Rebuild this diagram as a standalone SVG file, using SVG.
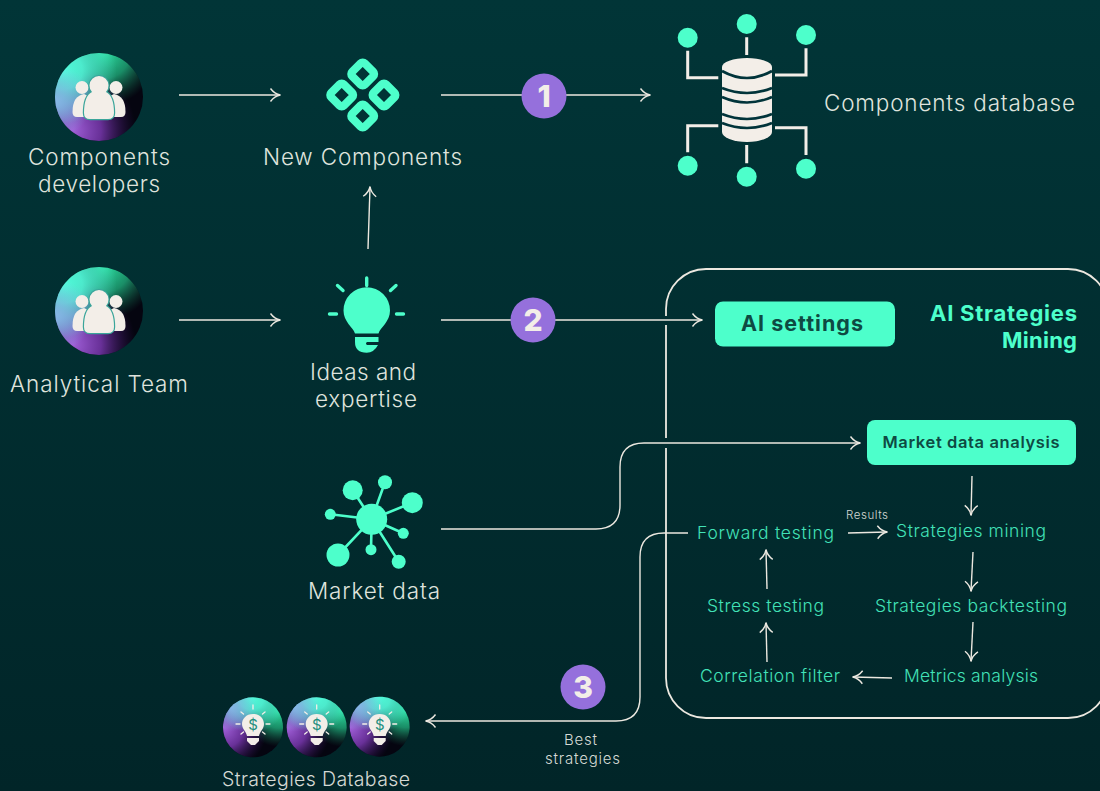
<svg xmlns="http://www.w3.org/2000/svg" xmlns:xlink="http://www.w3.org/1999/xlink" width="1100" height="791" viewBox="0 0 1100 791">
<style>
text{font-family:Inter,"Liberation Sans",sans-serif}
.lbl{fill:#dfe3dd;font-size:22.500px;font-weight:300}
.step{fill:#42e2b8;font-size:17.500px;font-weight:300}
.cap{fill:#d5d9d4;font-weight:300}
.conn{fill:none;stroke:#ece8e0;stroke-width:1.4}
.arr{marker-end:url(#head)}
.cream{fill:#f3eee8}
.mint{fill:#4dffcb}
.wire{fill:none;stroke:#f3eee8;stroke-width:3}
.spoke{stroke:#4dffcb;stroke-width:2.6}
.ray{stroke:#4dffcb;stroke-width:3.4;stroke-linecap:round}
.mray{stroke:#f3eee8;stroke-width:1.3;stroke-linecap:round}
.badge{fill:#9570dc}
.num{fill:#f3eee8;font-size:30px;font-weight:800;text-anchor:middle}
.gap{fill:none;stroke:#01343a;stroke-width:2.6}
</style>
<defs>
<linearGradient id="bg" x1="0" y1="0" x2="0" y2="1"><stop offset="0" stop-color="#013537"/><stop offset="1" stop-color="#012528"/></linearGradient>
<radialGradient id="gCyan" cx="0.1" cy="0.2" r="0.6"><stop offset="0" stop-color="#50ffdc"/><stop offset="0.35" stop-color="#52f5d8" stop-opacity="0.9"/><stop offset="1" stop-color="#58e0d8" stop-opacity="0"/></radialGradient>
<radialGradient id="gGreen" cx="0.55" cy="-0.02" r="0.62"><stop offset="0" stop-color="#2fe8a8"/><stop offset="0.5" stop-color="#1faf7c" stop-opacity="0.8"/><stop offset="1" stop-color="#127050" stop-opacity="0"/></radialGradient>
<radialGradient id="gPurple" cx="0.2" cy="0.88" r="0.72"><stop offset="0" stop-color="#a060d8"/><stop offset="0.45" stop-color="#7a38b0" stop-opacity="0.85"/><stop offset="1" stop-color="#3a1260" stop-opacity="0"/></radialGradient>
<radialGradient id="gBlue" cx="0" cy="0.55" r="0.42"><stop offset="0" stop-color="#88b8e8"/><stop offset="1" stop-color="#88b8e8" stop-opacity="0"/></radialGradient>
<g id="orb">
<circle r="1" fill="#050510"/>
<circle r="1" fill="url(#gGreen)"/>
<circle r="1" fill="url(#gPurple)"/>
<circle r="1" fill="url(#gCyan)"/>
<circle r="1" fill="url(#gBlue)"/>
</g>
<g id="people">
<circle cx="-17" cy="-9.500" r="6.500" class="cream"/>
<path class="cream" d="M-26.500 15 Q-26.500 -1 -15 -3 L-9 0 L-13 20 H-22 Q-26.500 20 -26.500 15Z"/>
<circle cx="17" cy="-9.500" r="6.500" class="cream"/>
<path class="cream" d="M26.500 15 Q26.500 -1 15 -3 L9 0 L13 20 H22 Q26.500 20 26.500 15Z"/>
<path fill="none" stroke="#3aa59a" stroke-width="2.400" d="M-15 16 Q-15 -1 -7 -5 A9.500 9.500 0 1 1 7 -5 Q15 -1 15 16 Q15 22 9 22 H-9 Q-15 22 -15 16Z"/>
<path class="cream" d="M-15 16 Q-15 -1 -7 -5 A9.500 9.500 0 1 1 7 -5 Q15 -1 15 16 Q15 22 9 22 H-9 Q-15 22 -15 16Z"/>
</g>
<g id="mbulb">
<path class="cream" d="M0 -11 C7 -11 11 -6 11 -1 C11 4 7 6 6 11 H-6 C-7 6 -11 4 -11 -1 C-11 -6 -7 -11 0 -11Z"/>
<path class="cream" d="M-6 13 H6 V16 L2 20 H-2 L-6 16Z"/>
<path class="mray" d="M0 -20V-16M-17 -1H-13M13 -1H17M-12 -13L-9.500 -11M12 -13L9.500 -11M-12 9L-9.500 7M12 9L9.500 7"/>
<text y="5" text-anchor="middle" font-size="15" font-weight="400" fill="#1f8f7f">$</text>
</g>
<marker id="head" viewBox="0 0 16 16" refX="14.500" refY="8" markerWidth="16" markerHeight="16" markerUnits="userSpaceOnUse" orient="auto"><path d="M5 1.500 Q9 7 15 8 Q9 9 5 14.500" fill="none" stroke="#ece8e0" stroke-width="1.400"/></marker>
</defs>
<rect width="1100" height="791" fill="url(#bg)"/>

<g id="connectors">
<path class="conn arr" d="M179 95H280"/>
<path class="conn arr" d="M441 95H650"/>
<path class="conn arr" d="M368 249L370 187"/>
<path class="conn arr" d="M179 320H280"/>
<path id="box" d="M666 316V309A40 40 0 0 1 706 269H1068A40 40 0 0 1 1108 309V678A40 40 0 0 1 1068 718H706A40 40 0 0 1 666 678V448M666 438V325" fill="none" stroke="#ece8e0" stroke-width="1.800"/>
<path class="conn arr" d="M441 320H702"/>
<path class="conn arr" d="M441 529H596Q620 529 620 505V467Q620 443 644 443H860"/>
<path class="conn arr" d="M688 533H664Q640 533 640 557V697Q640 721 616 721H426"/>
<path class="conn arr" d="M972 476L971 515"/>
<path class="conn arr" d="M848 533L887 532"/>
<path class="conn arr" d="M973 552L971 591"/>
<path class="conn arr" d="M973 622L971 661"/>
<path class="conn arr" d="M892 678L853 677"/>
<path class="conn arr" d="M767 662L766 623"/>
<path class="conn arr" d="M767 589L766 550"/>
</g>

<g id="components-developers">
<use xlink:href="#orb" href="#orb" transform="translate(99 97) scale(44)"/>
<use xlink:href="#people" href="#people" transform="translate(99 97)"/>
<text class="lbl" x="99" y="165" text-anchor="middle" textLength="142">Components</text>
<text class="lbl" x="99" y="192" text-anchor="middle" textLength="122">developers</text>
</g>
<g id="analytical-team">
<use xlink:href="#orb" href="#orb" transform="translate(99 311) scale(44)"/>
<use xlink:href="#people" href="#people" transform="translate(99 311)"/>
<text class="lbl" x="99" y="392" text-anchor="middle" textLength="178">Analytical Team</text>
</g>
<g id="new-components">
<g fill="none" stroke="#4dffcb" stroke-width="8">
<rect x="-9" y="-9" width="18" height="18" rx="3" transform="translate(362.700 74) rotate(45)"/>
<rect x="-9" y="-9" width="18" height="18" rx="3" transform="translate(341.700 95) rotate(45)"/>
<rect x="-9" y="-9" width="18" height="18" rx="3" transform="translate(384 95) rotate(45)"/>
<rect x="-9" y="-9" width="18" height="18" rx="3" transform="translate(362.700 116) rotate(45)"/>
</g>
<text class="lbl" x="362.500" y="165" text-anchor="middle" textLength="199">New Components</text>
</g>
<g id="components-database">
<path class="cream" d="M722 67A25 9 0 0 1 772 67V132A25 10 0 0 1 722 132Z"/>
<path class="gap" d="M722 71Q747 85 772 71"/>
<path class="gap" d="M722 88Q747 98 772 88"/>
<path class="gap" d="M722 97Q747 108 772 97"/>
<path class="gap" d="M722 114Q747 124 772 114"/>
<path class="gap" d="M722 123Q747 133 772 123"/>
<path class="wire" d="M687.700 50.700V77.700H718.300M746.700 37.300V55M806 48.300V75H775M687.700 152.300V125.700H718.300M746.700 145V163.300M806 155V127.700H775"/>
<g class="mint">
<circle cx="687.700" cy="37.700" r="10"/><circle cx="746.700" cy="24" r="10"/><circle cx="806" cy="35" r="10"/>
<circle cx="687.700" cy="165.700" r="10"/><circle cx="746.700" cy="176.700" r="10"/><circle cx="806" cy="168.700" r="10"/>
</g>
<text class="lbl" x="824" y="111" textLength="251">Components database</text>
</g>
<g id="ideas-and-expertise">
<path class="mint" d="M355 333.500C353 327 343.500 322 343.500 310.500A23.200 23.200 0 0 1 390 310.500C390 322 380.500 327 378.500 333.500Z"/>
<path class="mint" d="M355 337H378.500V342H367Q365 343.500 367 345H378Q374 352.700 366.700 352.700Q355 352.700 355 342Z"/>
<path class="ray" d="M366.700 278V285.500M329.500 314H336.500M396.500 314H403.500M337.500 285.500L343 290.500M396 285.500L390.500 290.500"/>
<text class="lbl" x="363" y="380" text-anchor="middle" textLength="106">Ideas and</text>
<text class="lbl" x="366" y="407" text-anchor="middle" textLength="102">expertise</text>
</g>
<g id="market-data">
<path class="spoke" d="M371.700 519.300L352.700 490.300M371.700 519.300L385 482.300M371.700 519.300L412.300 502.700M371.700 519.300L403.300 533.300M371.700 519.300L398.700 561.700M371.700 519.300L371 549.700M371.700 519.300L338 555M371.700 519.300L330.300 514.300"/>
<g class="mint">
<circle cx="371.700" cy="519.300" r="15.500"/><circle cx="352.700" cy="490.300" r="10"/><circle cx="385" cy="482.300" r="7"/><circle cx="412.300" cy="502.700" r="10.500"/><circle cx="403.300" cy="533.300" r="5.500"/><circle cx="398.700" cy="561.700" r="7"/><circle cx="371" cy="549.700" r="5.500"/><circle cx="338" cy="555" r="11.500"/><circle cx="330.300" cy="514.300" r="5.500"/>
</g>
<text class="lbl" x="374" y="599" text-anchor="middle" textLength="132">Market data</text>
</g>
<g id="strategies-database">
<use xlink:href="#orb" href="#orb" transform="translate(253 727.300) rotate(50) scale(30)"/>
<use xlink:href="#orb" href="#orb" transform="translate(316.700 727.300) rotate(50) scale(30)"/>
<use xlink:href="#orb" href="#orb" transform="translate(379.700 726.700) rotate(50) scale(30)"/>
<use xlink:href="#mbulb" href="#mbulb" transform="translate(253 725)"/>
<use xlink:href="#mbulb" href="#mbulb" transform="translate(316.700 725)"/>
<use xlink:href="#mbulb" href="#mbulb" transform="translate(379.700 725)"/>
<text class="cap" x="316" y="786" text-anchor="middle" font-size="19.500" textLength="188">Strategies Database</text>
</g>
<g id="badge-1"><circle class="badge" cx="544" cy="96" r="22.500"/><text class="num" x="544" y="107">1</text></g>
<g id="badge-2"><circle class="badge" cx="533" cy="320" r="22.500"/><text class="num" x="533" y="331">2</text></g>
<g id="badge-3"><circle class="badge" cx="583" cy="687" r="22.500"/><text class="num" x="583" y="698">3</text></g>
<g id="best-strategies">
<text class="cap" x="580.500" y="745" text-anchor="middle" font-size="15" textLength="33">Best</text>
<text class="cap" x="582.500" y="764" text-anchor="middle" font-size="15" textLength="75">strategies</text>
</g>
<g id="ai-strategies-mining">
<text x="1077" y="321" text-anchor="end" font-size="22" font-weight="700" fill="#4dffcb" textLength="147">AI Strategies</text>
<text x="1077" y="348" text-anchor="end" font-size="22" font-weight="700" fill="#4dffcb" textLength="75">Mining</text>
</g>
<g id="ai-settings">
<rect class="mint" x="715" y="301.500" width="180" height="45" rx="8"/>
<text x="802" y="331" text-anchor="middle" font-size="21.500" font-weight="700" fill="#0e4a42" textLength="122">AI settings</text>
</g>
<g id="market-data-analysis">
<rect class="mint" x="867" y="420" width="209" height="45" rx="8"/>
<text x="971" y="448" text-anchor="middle" font-size="16.500" font-weight="600" fill="#0e4a42" textLength="177">Market data analysis</text>
</g>
<g id="forward-testing"><text class="step" x="697" y="539" textLength="137">Forward testing</text></g>
<g id="strategies-mining"><text class="step" x="896" y="537" textLength="150">Strategies mining</text></g>
<g id="stress-testing"><text class="step" x="707" y="612" textLength="117">Stress testing</text></g>
<g id="strategies-backtesting"><text class="step" x="875" y="612" textLength="192">Strategies backtesting</text></g>
<g id="correlation-filter"><text class="step" x="700" y="682" textLength="140">Correlation filter</text></g>
<g id="metrics-analysis"><text class="step" x="904" y="682" textLength="134">Metrics analysis</text></g>
<text class="cap" x="846" y="519" font-size="11.500" textLength="42">Results</text>
</svg>
